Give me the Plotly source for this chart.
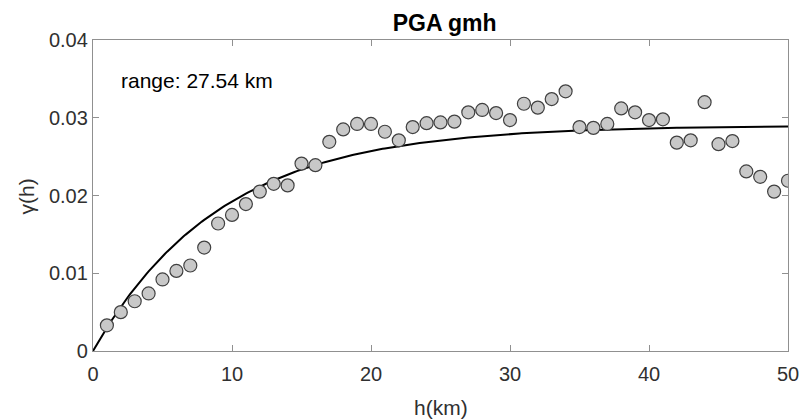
import numpy as np
import plotly.graph_objects as go

# Experimental variogram (lag h in km, semivariance gamma)
lag_km = list(range(1, 51))
gamma_exp = [0.0033, 0.0050, 0.0064, 0.0074, 0.0092, 0.0103, 0.0110, 0.0133, 0.0164, 0.0175,
             0.0189, 0.0205, 0.0215, 0.0213, 0.0241, 0.0239, 0.0269, 0.0285, 0.0292, 0.0292,
             0.0282, 0.0271, 0.0288, 0.0293, 0.0294, 0.0295, 0.0307, 0.0310, 0.0306, 0.0297,
             0.0318, 0.0313, 0.0324, 0.0334, 0.0288, 0.0287, 0.0292, 0.0312, 0.0307, 0.0297,
             0.0298, 0.0268, 0.0271, 0.0320, 0.0266, 0.0270, 0.0231, 0.0224, 0.0205, 0.0219]

# Fitted exponential model parameters
model_range_km = 27.54
model_sill = 0.0290
h_model = np.linspace(0, 50, 301)
gamma_model = model_sill * (1 - np.exp(-3 * h_model / model_range_km))

x_ticks = [0, 10, 20, 30, 40, 50]
y_ticks = [0, 0.01, 0.02, 0.03, 0.04]
y_tick_text = ["0", "0.01", "0.02", "0.03", "0.04"]

fig = go.Figure()
fig.add_trace(go.Scatter(x=h_model, y=gamma_model, mode="lines",
                         line=dict(color="black", width=2), showlegend=False))
fig.add_trace(go.Scatter(x=lag_km, y=gamma_exp, mode="markers",
                         marker=dict(size=13, color="#c8c8c8",
                                     line=dict(color="#404040", width=1.2)),
                         showlegend=False))

font_family = "Liberation Sans, Arial, sans-serif"
txt_color = "#303030"
axis_common = dict(showgrid=False, zeroline=False, showline=True, linecolor="#909090",
                   linewidth=1.3, mirror="ticks", ticks="inside", ticklen=6, automargin=False,
                   tickcolor="#909090", tickfont=dict(size=20, color=txt_color, family=font_family))

fig.update_layout(
    width=801, height=419,
    margin=dict(l=93, r=13, t=40, b=68),
    paper_bgcolor="white", plot_bgcolor="white",
    title=dict(text="<b>PGA gmh</b>", x=0.506, xanchor="center", xref="paper",
               y=0.945, yanchor="middle", yref="container",
               font=dict(size=23, color="black", family=font_family)),
    xaxis=dict(range=[0, 50], tickvals=x_ticks, ticklabelstandoff=5, **axis_common),
    yaxis=dict(range=[0, 0.04], tickvals=y_ticks, ticktext=y_tick_text, **axis_common),
    annotations=[
        dict(x=1.9, y=0.0348, xref="x", yref="y", text="range: 27.54 km",
             showarrow=False, xanchor="left", yanchor="middle",
             font=dict(size=21, color="black", family=font_family)),
        dict(x=0.5007, y=-0.182, xref="paper", yref="paper", text="h(km)",
             showarrow=False, xanchor="center", yanchor="middle",
             font=dict(size=21, color=txt_color, family=font_family)),
        dict(x=-0.0964, y=0.497, xref="paper", yref="paper", text="γ(h)", textangle=-90,
             showarrow=False, xanchor="center", yanchor="middle",
             font=dict(size=21, color=txt_color, family=font_family)),
    ],
)

fig.write_html("out.html", config={"displayModeBar": False},
               post_script="document.body.style.margin='0';document.body.style.overflow='hidden';")
